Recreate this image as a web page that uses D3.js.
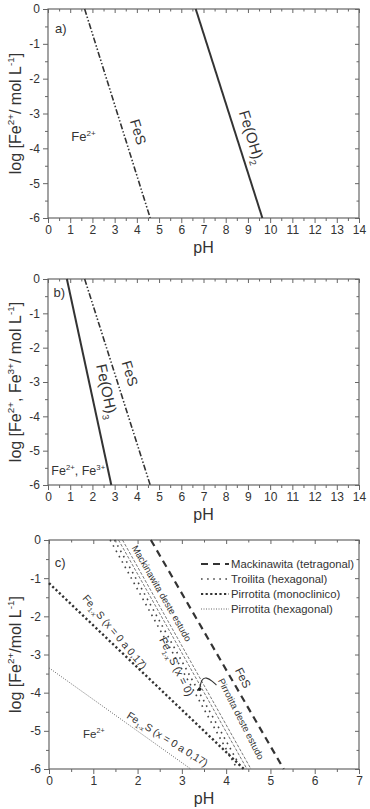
<!DOCTYPE html>
<html>
<head>
<meta charset="utf-8">
<script src="https://cdn.jsdelivr.net/npm/d3@7"></script>
<style>
body { margin: 0; background: #fff; }
svg { font-family: "Liberation Sans", Arial, sans-serif; }
</style>
</head>
<body>
<div id="chart"></div>
<script>
// ---- data (pH, log[Fe]) ----
// panel a
const fesA = [[1.65, 0], [4.6, -6]]
const feOH2A = [[6.65, 0], [9.65, -6]]
// panel b
const feOH3B = [[0.85, 0], [2.85, -6]]
const fesB = [[1.65, 0], [4.6, -6]]
// panel c
const mackTetra = [[2.3, 0], [5.3, -6]]
const troilita1 = [[1.38, 0], [4.25, -6]]
const troilita2 = [[1.48, 0], [4.35, -6]]
const pirroMono = [[0, -1.13], [4.4, -6]]
const pirroHexa = [[0, -3.35], [3.2, -6]]
const mackEstudo = [[1.57, 0], [4.47, -6]]
const pirroEstudo = [[1.66, 0], [4.56, -6]]
const callout = [[3.40, -3.91], [3.44, -3.65], [3.55, -3.59], [3.70, -3.71], [3.78, -3.80]]

const legendNames = ["Mackinawita (tetragonal)", "Troilita (hexagonal)", "Pirrotita (monoclinico)", "Pirrotita (hexagonal)"]
const yTicks = [0, -1, -2, -3, -4, -5, -6]

const svg = d3.select("#chart").append("svg")
    .attr("width", 370)
    .attr("height", 809)

// write "Fe^{2+}" / "Fe_{1-x}S" style strings into a text element
function rich(t, str, fs) {
    let shift = 0
    str.split(/(\^\{[^}]*\}|_\{[^}]*\})/).filter(s => s.length).forEach(s => {
        let target = 0, txt = s, small = false
        if (s[0] === "^") { target = -fs * 0.42; txt = s.slice(2, -1); small = true }
        else if (s[0] === "_") { target = fs * 0.3; txt = s.slice(2, -1); small = true }
        t.append("tspan")
            .attr("dy", target - shift)
            .attr("font-size", small ? fs * 0.62 : fs)
            .text(txt)
        shift = target
    })
    return t
}

function makePanel(p) {
    const x = d3.scaleLinear().domain([0, p.xMax]).range([p.left, p.right])
    const y = d3.scaleLinear().domain([-6, 0]).range([p.bottom, p.top])
    const g = svg.append("g")
    const xMinor = d3.range(0.5, p.xMax, 1)
    const yMinor = d3.range(-5.5, 0, 1)

    const style = sel => {
        sel.select(".domain").remove()
        sel.selectAll("line").attr("stroke", "#666").attr("stroke-width", 1)
        sel.selectAll("text").attr("fill", "#333").attr("font-size", 12)
    }

    // bottom, outward
    g.append("g").attr("transform", "translate(0," + p.bottom + ")")
        .call(d3.axisBottom(x).tickValues(d3.range(0, p.xMax + 1)).tickSize(5).tickPadding(2).tickFormat(d => String(d)))
        .call(style)
    g.append("g").attr("transform", "translate(0," + p.bottom + ")")
        .call(d3.axisBottom(x).tickValues(xMinor).tickSize(3).tickFormat(""))
        .call(style)
    // left, outward
    g.append("g").attr("transform", "translate(" + p.left + ",0)")
        .call(d3.axisLeft(y).tickValues(yTicks).tickSize(5).tickPadding(3).tickFormat(d => String(d)))
        .call(style)
    g.append("g").attr("transform", "translate(" + p.left + ",0)")
        .call(d3.axisLeft(y).tickValues(yMinor).tickSize(3).tickFormat(""))
        .call(style)
    // top / right mirrored, inward
    g.append("g").attr("transform", "translate(0," + p.top + ")")
        .call(d3.axisBottom(x).tickValues(d3.range(0, p.xMax + 1)).tickSize(4).tickFormat(""))
        .call(style)
    g.append("g").attr("transform", "translate(0," + p.top + ")")
        .call(d3.axisBottom(x).tickValues(xMinor).tickSize(2.5).tickFormat(""))
        .call(style)
    g.append("g").attr("transform", "translate(" + p.right + ",0)")
        .call(d3.axisLeft(y).tickValues(yTicks).tickSize(4).tickFormat(""))
        .call(style)
    g.append("g").attr("transform", "translate(" + p.right + ",0)")
        .call(d3.axisLeft(y).tickValues(yMinor).tickSize(2.5).tickFormat(""))
        .call(style)

    g.append("rect")
        .attr("x", p.left).attr("y", p.top)
        .attr("width", p.right - p.left).attr("height", p.bottom - p.top)
        .attr("fill", "none").attr("stroke", "#666").attr("stroke-width", 1.2)

    // axis titles
    g.append("text")
        .attr("x", (p.left + p.right) / 2).attr("y", p.bottom + 35)
        .attr("text-anchor", "middle").attr("font-size", 16).attr("fill", "#333")
        .text("pH")
    rich(g.append("text")
        .attr("transform", "translate(21," + (p.top + p.bottom) / 2 + ") rotate(-90)")
        .attr("text-anchor", "middle").attr("fill", "#333"), p.yTitle, 16)

    return {g, x, y}
}

function drawLine(panel, pts, stroke, width, dash) {
    const line = d3.line().x(d => panel.x(d[0])).y(d => panel.y(d[1]))
    return panel.g.append("path")
        .attr("d", line(pts))
        .attr("fill", "none")
        .attr("stroke", stroke)
        .attr("stroke-width", width)
        .attr("stroke-dasharray", dash)
        .attr("stroke-linecap", "butt")
}

function label(panel, at, str, fs, rot, anchor) {
    const t = panel.g.append("text")
        .attr("transform", "translate(" + panel.x(at[0]) + "," + panel.y(at[1]) + ") rotate(" + (rot || 0) + ")")
        .attr("text-anchor", anchor || "start")
        .attr("fill", "#333")
    return rich(t, str, fs)
}

// ---- panel a ----
const pa = makePanel({left: 48, right: 359, top: 9, bottom: 218, xMax: 14, yTitle: "log [Fe^{2+}/ mol L^{-1}]"})
drawLine(pa, fesA, "#333", 1.6, "6,2,1.5,2,1.5,2")
drawLine(pa, feOH2A, "#333", 2, null)
label(pa, [0.32, -0.69], "a)", 13)
label(pa, [1.05, -3.8], "Fe^{2+}", 13)
label(pa, [3.85, -3.57], "FeS", 14, 73, "middle")
label(pa, [8.95, -3.72], "Fe(OH)_{2}", 15, 73, "middle")

// ---- panel b ----
const pb = makePanel({left: 48, right: 359, top: 279, bottom: 485, xMax: 14, yTitle: "log [Fe^{2+}, Fe^{3+}/ mol L^{-1}]"})
drawLine(pb, feOH3B, "#333", 2, null)
drawLine(pb, fesB, "#333", 1.6, "6,2,1.5,2,1.5,2")
label(pb, [0.25, -0.52], "b)", 13)
label(pb, [0.15, -5.72], "Fe^{2+}, Fe^{3+}", 12.5)
label(pb, [2.42, -3.3], "Fe(OH)_{3}", 15, 78, "middle")
label(pb, [3.48, -2.79], "FeS", 14, 73, "middle")

// ---- panel c ----
const pc = makePanel({left: 49, right: 359, top: 540, bottom: 769, xMax: 7, yTitle: "log [Fe^{2+}/mol L^{-1}]"})
const styles = [
    {stroke: "#333", width: 2.2, dash: "7,5"},
    {stroke: "#444", width: 1.6, dash: "1.6,4.5"},
    {stroke: "#333", width: 2.4, dash: "2.2,2.4"},
    {stroke: "#666", width: 1, dash: "1,1.5"}
]
drawLine(pc, mackTetra, styles[0].stroke, styles[0].width, styles[0].dash)
drawLine(pc, troilita1, styles[1].stroke, styles[1].width, styles[1].dash)
drawLine(pc, troilita2, styles[1].stroke, styles[1].width, styles[1].dash)
drawLine(pc, pirroMono, styles[2].stroke, styles[2].width, styles[2].dash)
drawLine(pc, pirroHexa, styles[3].stroke, styles[3].width, styles[3].dash)
drawLine(pc, mackEstudo, "#555", 0.8, "3,1.6")
drawLine(pc, pirroEstudo, "#555", 0.8, "3,1.6")
pc.g.append("path")
    .attr("d", d3.line().curve(d3.curveBasis).x(d => pc.x(d[0])).y(d => pc.y(d[1]))(callout))
    .attr("fill", "none").attr("stroke", "#333").attr("stroke-width", 1.1)
pc.g.append("circle")
    .attr("cx", pc.x(callout[0][0])).attr("cy", pc.y(callout[0][1]))
    .attr("r", 1.8).attr("fill", "#222")

label(pc, [0.13, -0.71], "c)", 13)
label(pc, [0.77, -5.18], "Fe^{2+}", 11.5)
label(pc, [2.48, -1.44], "Mackinawita deste estudo", 9.5, 60, "middle")
label(pc, [2.8, -3.36], "Fe_{1-x}S (x = 0)", 11, 64, "middle")
label(pc, [4.27, -4.73], "Pirrotita deste estudo", 9.5, 63, "middle")
label(pc, [4.3, -3.66], "FeS", 11.5, 63, "middle")
label(pc, [1.42, -2.47], "Fe_{1-x}S (x = 0 a 0,17)", 10.5, 50, "middle")
label(pc, [2.63, -5.3], "Fe_{1-x}S (x = 0 a 0,17)", 10.5, 32, "middle")

// legend
const leg = pc.g.append("g").attr("transform", "translate(201,564)")
legendNames.forEach((name, i) => {
    const row = leg.append("g").attr("transform", "translate(0," + i * 15 + ")")
    row.append("line")
        .attr("x1", 0).attr("x2", 28).attr("y1", 0).attr("y2", 0)
        .attr("stroke", styles[i].stroke)
        .attr("stroke-width", Math.min(styles[i].width, 2))
        .attr("stroke-dasharray", styles[i].dash)
    row.append("text")
        .attr("x", 30).attr("y", 4)
        .attr("font-size", 11.3).attr("fill", "#333")
        .text(name)
})
</script>
</body>
</html>
